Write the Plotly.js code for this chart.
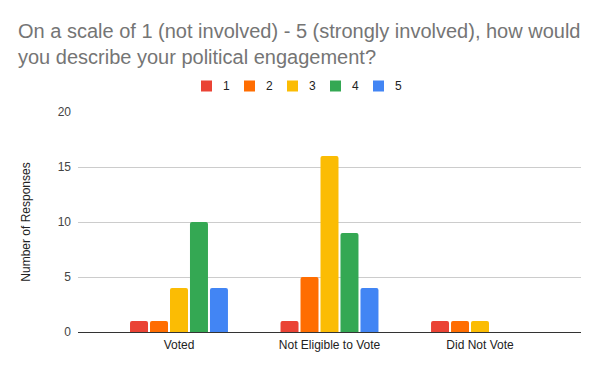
<!DOCTYPE html>
<html>
<head>
<meta charset="utf-8">
<script src="https://cdn.plot.ly/plotly-3.0.1.min.js"></script>
<style>html,body{margin:0;padding:0;background:#fff;}#chart{width:600px;height:371px;}</style>
</head>
<body>
<div id="chart"></div>
<script>
const categories = ["Voted", "Not Eligible to Vote", "Did Not Vote"];
const seriesNames = ["1", "2", "3", "4", "5"];
const s1 = [1, 1, 1];
const s2 = [1, 5, 1];
const s3 = [4, 16, 1];
const s4 = [10, 9, 0];
const s5 = [4, 4, 0];
const colors = ["#ea4335", "#ff6d01", "#fbbc04", "#34a853", "#4285f4"];
const yTicks = [0, 5, 10, 15, 20];

const allSeries = [s1, s2, s3, s4, s5];
const traces = allSeries.map((vals, i) => ({
  type: "bar",
  name: seriesNames[i],
  x: categories,
  y: vals,
  marker: {color: colors[i], line: {width: 0}},
  showlegend: false,
  hoverinfo: "x+y+name"
}));

const FONT = "Arial, 'Liberation Sans', sans-serif";
const W = 600, H = 371;
const M = {l: 78, r: 19, t: 112, b: 39};
const pw = W - M.l - M.r, ph = H - M.t - M.b;
const px2x = px => (px - M.l) / pw;
const py2y = py => (H - M.b - py) / ph;

// custom legend (compact, like the original)
const legStart = 201, legStep = 43, sq = 11, legCy = 86;
const shapes = [], annotations = [];
seriesNames.forEach((name, i) => {
  const x0 = legStart + i * legStep;
  shapes.push({
    type: "rect", xref: "paper", yref: "paper",
    x0: px2x(x0), x1: px2x(x0 + sq),
    y0: py2y(legCy + sq / 2), y1: py2y(legCy - sq / 2),
    fillcolor: colors[i], line: {width: 0}
  });
  annotations.push({
    xref: "paper", yref: "paper",
    x: px2x(x0 + 20), y: py2y(legCy),
    xanchor: "left", yanchor: "middle",
    text: name, showarrow: false,
    font: {family: FONT, size: 12, color: "#222"}
  });
});

const layout = {
  width: W, height: H,
  margin: {l: M.l, r: M.r, t: M.t, b: M.b, pad: 0},
  paper_bgcolor: "#fff", plot_bgcolor: "#fff",
  font: {family: FONT, size: 12, color: "#222"},
  barmode: "group",
  bargap: 0.336,
  bargroupgap: 0.1,
  barcornerradius: 2,
  title: {
    text: "On a scale of 1 (not involved) - 5 (strongly involved), how would<br>you describe your political engagement?",
    font: {family: FONT, size: 20, color: "#757575"},
    x: 18/600, xref: "container", xanchor: "left",
    y: 1 - 38/371, yref: "container", yanchor: "top"
  },
  showlegend: false,
  shapes: shapes,
  annotations: annotations,
  xaxis: {
    type: "category",
    range: [-0.671, 2.671],
    showgrid: false,
    zeroline: false,
    showline: false,
    ticks: "",
    ticklabelstandoff: 4,
    tickfont: {family: FONT, size: 12, color: "#222"},
    fixedrange: true
  },
  yaxis: {
    range: [0, 20],
    tickvals: yTicks,
    ticktext: yTicks.map(String),
    showgrid: true,
    gridcolor: "#cccccc",
    gridwidth: 1,
    zeroline: true,
    zerolinecolor: "#333333",
    zerolinewidth: 1,
    ticks: "",
    ticklabelstandoff: 6,
    tickfont: {family: FONT, size: 12, color: "#444"},
    title: {text: "Number of Responses", font: {family: FONT, size: 12, color: "#222"}, standoff: 24},
    fixedrange: true
  }
};

Plotly.newPlot("chart", traces, layout, {displayModeBar: false, staticPlot: true});
</script>
</body>
</html>
